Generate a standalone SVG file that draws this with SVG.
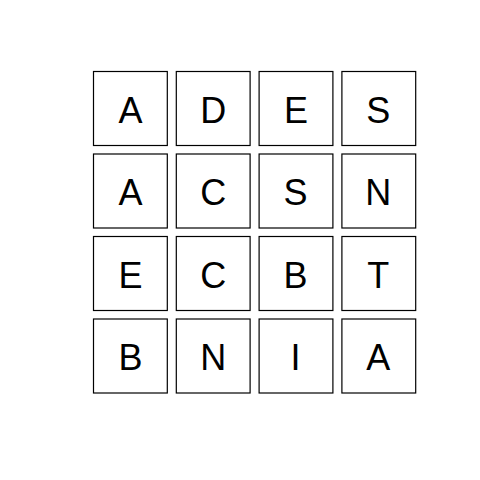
<svg xmlns="http://www.w3.org/2000/svg" width="480" height="480" viewBox="0 0 480 480">
<style>
rect.c{fill:#fff;stroke:#000;stroke-width:1.2}
text{font-family:"Liberation Sans",Arial,sans-serif;font-size:36px;fill:#000;text-anchor:middle}
</style>
<rect width="480" height="480" fill="#fff"/>
<g id="r0c0"><rect class="c" x="93.5" y="71.5" width="73.8" height="74"/><text x="130.4" y="122.5">A</text></g>
<g id="r0c1"><rect class="c" x="176.3" y="71.5" width="73.8" height="74"/><text x="213.2" y="122.5">D</text></g>
<g id="r0c2"><rect class="c" x="259.1" y="71.5" width="73.8" height="74"/><text x="296" y="122.5">E</text></g>
<g id="r0c3"><rect class="c" x="341.9" y="71.5" width="73.8" height="74"/><text x="378.3" y="122.5">S</text></g>
<g id="r1c0"><rect class="c" x="93.5" y="154" width="73.8" height="74"/><text x="130.4" y="205">A</text></g>
<g id="r1c1"><rect class="c" x="176.3" y="154" width="73.8" height="74"/><text x="213.2" y="205">C</text></g>
<g id="r1c2"><rect class="c" x="259.1" y="154" width="73.8" height="74"/><text x="295.5" y="205">S</text></g>
<g id="r1c3"><rect class="c" x="341.9" y="154" width="73.8" height="74"/><text x="378.3" y="205">N</text></g>
<g id="r2c0"><rect class="c" x="93.5" y="236.5" width="73.8" height="74"/><text x="130.4" y="287.5">E</text></g>
<g id="r2c1"><rect class="c" x="176.3" y="236.5" width="73.8" height="74"/><text x="213.2" y="287.5">C</text></g>
<g id="r2c2"><rect class="c" x="259.1" y="236.5" width="73.8" height="74"/><text x="295.5" y="287.5">B</text></g>
<g id="r2c3"><rect class="c" x="341.9" y="236.5" width="73.8" height="74"/><text x="378.3" y="287.5">T</text></g>
<g id="r3c0"><rect class="c" x="93.5" y="319" width="73.8" height="74"/><text x="130.4" y="370">B</text></g>
<g id="r3c1"><rect class="c" x="176.3" y="319" width="73.8" height="74"/><text x="213.2" y="370">N</text></g>
<g id="r3c2"><rect class="c" x="259.1" y="319" width="73.8" height="74"/><text x="295.5" y="370">I</text></g>
<g id="r3c3"><rect class="c" x="341.9" y="319" width="73.8" height="74"/><text x="378.3" y="370">A</text></g>
<g id="connectors"></g>
</svg>
